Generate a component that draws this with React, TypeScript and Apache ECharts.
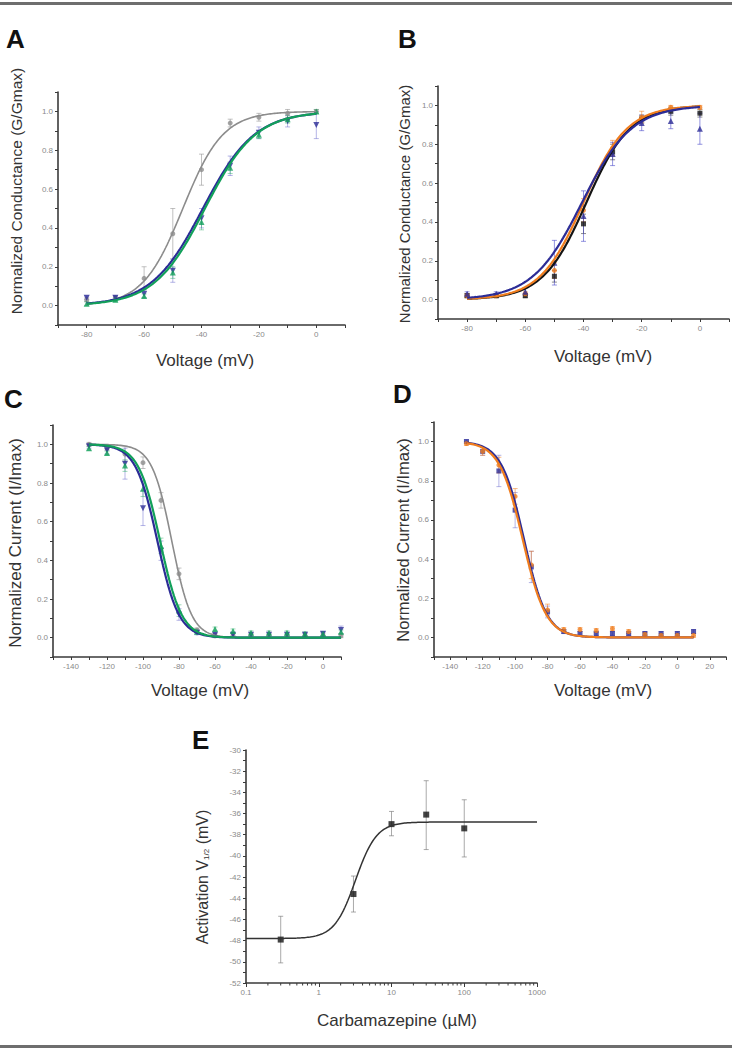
import React, { useEffect, useRef } from "react";
import * as echarts from "echarts";

const FONT = "'Liberation Sans', Arial, Helvetica, sans-serif";

// ---------- Panel A (activation, G/Gmax) ----------
const actVolts = [-80, -70, -60, -50, -40, -30, -20, -10, 0];
const aGray = [0.03, 0.04, 0.14, 0.37, 0.7, 0.94, 0.97, 0.99, 1.0];
const aGrayErr = [0.01, 0.01, 0.06, 0.13, 0.08, 0.02, 0.02, 0.02, 0.01];
const aBlue = [0.04, 0.04, 0.06, 0.18, 0.45, 0.72, 0.89, 0.95, 0.93];
const aBlueErr = [0.01, 0.01, 0.02, 0.06, 0.05, 0.05, 0.03, 0.03, 0.07];
const aGreen = [0.01, 0.03, 0.05, 0.17, 0.43, 0.71, 0.88, 0.96, 1.0];
const aGreenErr = [0.01, 0.01, 0.01, 0.03, 0.04, 0.03, 0.02, 0.02, 0.01];
// Boltzmann fit parameters [V1/2, k]
const aGrayFit = [-46.5, 7];
const aBlueFit = [-39.5, 9];
const aGreenFit = [-38.8, 8.8];

// ---------- Panel B ----------
const bBlack = [0.02, 0.02, 0.02, 0.12, 0.39, 0.76, 0.93, 0.97, 0.96];
const bBlackErr = [0.01, 0.01, 0.01, 0.03, 0.05, 0.04, 0.02, 0.02, 0.02];
const bOrange = [0.02, 0.02, 0.03, 0.15, 0.46, 0.78, 0.94, 0.99, 0.99];
const bOrangeErr = [0.01, 0.01, 0.01, 0.04, 0.06, 0.04, 0.03, 0.01, 0.01];
const bBlue = [0.03, 0.03, 0.04, 0.19, 0.43, 0.75, 0.91, 0.92, 0.88];
const bBlueErr = [0.01, 0.01, 0.02, 0.115, 0.13, 0.06, 0.04, 0.04, 0.08];
const bBlackFit = [-39, 7.5];
const bOrangeFit = [-40, 7.5];
const bBlueFit = [-40.5, 8.5];

// ---------- Panel C (inactivation, I/Imax) ----------
const inactVolts = [-130, -120, -110, -100, -90, -80, -70, -60, -50, -40, -30, -20, -10, 0, 10];
const cGray = [1.0, 0.98, 0.95, 0.905, 0.71, 0.33, 0.04, 0.01, 0.01, 0.01, 0.01, 0.01, 0.01, 0.01, 0.01];
const cGrayErr = [0.01, 0.01, 0.04, 0.03, 0.04, 0.03, 0.01, 0.01, 0.01, 0.01, 0.01, 0.01, 0.01, 0.01, 0.01];
const cBlue = [0.99, 0.97, 0.9, 0.67, 0.45, 0.12, 0.025, 0.015, 0.015, 0.015, 0.015, 0.015, 0.015, 0.02, 0.04];
const cBlueErr = [0.01, 0.02, 0.08, 0.09, 0.05, 0.03, 0.01, 0.01, 0.01, 0.01, 0.01, 0.01, 0.01, 0.01, 0.02];
const cGreen = [0.98, 0.955, 0.89, 0.77, 0.475, 0.14, 0.03, 0.045, 0.035, 0.025, 0.025, 0.025, 0.02, 0.02, 0.03];
const cGreenErr = [0.01, 0.01, 0.03, 0.04, 0.04, 0.03, 0.01, 0.01, 0.01, 0.01, 0.01, 0.01, 0.01, 0.01, 0.01];
const cGrayFit = [-84, 5.5];
const cBlueFit = [-92, 6];
const cGreenFit = [-90.5, 6];

// ---------- Panel D ----------
const dBlue = [1.0, 0.95, 0.85, 0.65, 0.36, 0.13, 0.03, 0.02, 0.02, 0.02, 0.02, 0.02, 0.02, 0.02, 0.03];
const dBlueErr = [0.01, 0.02, 0.08, 0.09, 0.08, 0.03, 0.01, 0.01, 0.01, 0.01, 0.01, 0.01, 0.01, 0.01, 0.01];
const dOrange = [0.99, 0.95, 0.88, 0.72, 0.37, 0.14, 0.04, 0.04, 0.035, 0.045, 0.03, 0.015, 0.01, 0.01, 0.01];
const dOrangeErr = [0.01, 0.02, 0.04, 0.04, 0.07, 0.03, 0.01, 0.01, 0.01, 0.01, 0.01, 0.01, 0.01, 0.01, 0.01];
const dBlueFit = [-94.5, 7];
const dOrangeFit = [-95.3, 7.2];

// ---------- Panel E (V1/2 vs carbamazepine) ----------
const eConc = [0.3, 3, 10, 30, 100];
const eV = [-47.9, -43.6, -37.0, -36.1, -37.4];
const eLow = [-50.1, -45.3, -38.1, -39.4, -40.1];
const eHigh = [-45.7, -41.9, -35.8, -32.9, -34.7];
// dose-response fit: bottom, top, EC50, Hill
const eFit = [-47.8, -36.8, 3.2, 3];
const eLogMinor = [0.2, 0.3, 0.4, 0.5, 0.6, 0.7, 0.8, 0.9, 2, 3, 4, 5, 6, 7, 8, 9, 20, 30, 40, 50, 60, 70, 80, 90, 200, 300, 400, 500, 600, 700, 800, 900];

// tick label lists
const yNormTicks = [-0.1, 0, 0.1, 0.2, 0.3, 0.4, 0.5, 0.6, 0.7, 0.8, 0.9, 1.0, 1.1];
const yNormLabels = [0, 0.2, 0.4, 0.6, 0.8, 1.0];
const xActTicks = [-90, -80, -70, -60, -50, -40, -30, -20, -10, 0, 10];
const xActLabels = [-80, -60, -40, -20, 0];
const xCTicks = [-150, -140, -130, -120, -110, -100, -90, -80, -70, -60, -50, -40, -30, -20, -10, 0, 10];
const xCLabels = [-140, -120, -100, -80, -60, -40, -20, 0];
const xDTicks = [-150, -140, -130, -120, -110, -100, -90, -80, -70, -60, -50, -40, -30, -20, -10, 0, 10, 20, 30];
const xDLabels = [-140, -120, -100, -80, -60, -40, -20, 0, 20];
const yELabels = [-52, -50, -48, -46, -44, -42, -40, -38, -36, -34, -32, -30];

const GRAY = "#8c8c8c";
const BLUE = "#2c2c96";
const GREEN = "#12a05a";
const ORANGE = "#f07d1e";
const BLACK = "#141414";
const INV_TRI = "path://M0,0 L10,0 L5,9 Z";

const act = (p: number[]) => (v: number) => 1 / (1 + Math.exp((p[0] - v) / p[1]));
const inact = (p: number[]) => (v: number) => 1 / (1 + Math.exp((v - p[0]) / p[1]));

function curve(min: number, max: number, f: (v: number) => number) {
  const out: number[][] = [];
  const n = 160;
  for (let i = 0; i <= n; i++) {
    const v = min + ((max - min) * i) / n;
    out.push([v, f(v)]);
  }
  return out;
}
function logCurve(min: number, max: number, f: (v: number) => number) {
  const out: number[][] = [];
  const n = 200;
  const a = Math.log10(min), b = Math.log10(max);
  for (let i = 0; i <= n; i++) {
    const v = Math.pow(10, a + ((b - a) * i) / n);
    out.push([v, f(v)]);
  }
  return out;
}

const pts = (xs: number[], ys: number[]) => xs.map((x, i) => [x, ys[i]]);
const errs = (xs: number[], ys: number[], es: number[]) => xs.map((x, i) => [x, ys[i] - es[i], ys[i] + es[i]]);

function errRender(color: string) {
  return (_p: any, api: any) => {
    const x = api.value(0), lo = api.value(1), hi = api.value(2);
    const a = api.coord([x, hi]);
    const b = api.coord([x, lo]);
    const w = 2.5;
    const st = { stroke: color, lineWidth: 0.9 };
    return {
      type: "group",
      children: [
        { type: "line", shape: { x1: a[0], y1: a[1], x2: b[0], y2: b[1] }, style: st },
        { type: "line", shape: { x1: a[0] - w, y1: a[1], x2: a[0] + w, y2: a[1] }, style: st },
        { type: "line", shape: { x1: b[0] - w, y1: b[1], x2: b[0] + w, y2: b[1] }, style: st },
      ],
    };
  };
}

function errSeries(g: number, data: number[][], color: string) {
  return {
    type: "custom",
    xAxisIndex: g,
    yAxisIndex: g,
    data,
    renderItem: errRender(color),
    z: 2,
    silent: true,
  };
}
function scatterSeries(g: number, data: number[][], color: string, symbol: string, size = 5) {
  return {
    type: "scatter",
    xAxisIndex: g,
    yAxisIndex: g,
    data,
    symbol,
    symbolSize: size,
    itemStyle: { color },
    z: 3,
    silent: true,
  };
}
function lineSeries(g: number, data: number[][], color: string, width = 2, z = 4) {
  return {
    type: "line",
    xAxisIndex: g,
    yAxisIndex: g,
    data,
    showSymbol: false,
    symbol: "none",
    lineStyle: { color, width },
    z,
    silent: true,
  };
}

const axisLineStyle = { color: "#3a3a3a", width: 1.6 };
const tickLabel = { color: "#8a8a8a", fontSize: 8, fontFamily: FONT, margin: 5 };

function valueAxis(g: number, min: number, max: number, ticks: number[], labels: number[], fmt: (v: number) => string) {
  return {
    type: "value",
    gridIndex: g,
    min,
    max,
    axisLine: { show: true, onZero: false, lineStyle: axisLineStyle },
    axisTick: { show: true, inside: false, length: 3, customValues: ticks, lineStyle: { color: "#3a3a3a", width: 1 } },
    axisLabel: { ...tickLabel, customValues: labels, formatter: (v: number) => fmt(v) },
    splitLine: { show: false },
  };
}

function App() {
  const ref = useRef<HTMLDivElement>(null);
  useEffect(() => {
    if (!ref.current) return;
    const chart = echarts.init(ref.current, undefined, { renderer: "svg" });
    const fx = (v: number) => String(Math.round(v));
    const fy = (v: number) => v.toFixed(1);

    const grids = [
      { left: 58, top: 92, width: 287, height: 233 },
      { left: 438, top: 86, width: 291, height: 233 },
      { left: 53, top: 425, width: 288, height: 232 },
      { left: 434, top: 422, width: 292, height: 235 },
      { left: 246, top: 750, width: 291, height: 233 },
    ];

    const xAxis: any[] = [
      valueAxis(0, -90, 10, xActTicks, xActLabels, fx),
      valueAxis(1, -90, 10, xActTicks, xActLabels, fx),
      valueAxis(2, -150, 10, xCTicks, xCLabels, fx),
      valueAxis(3, -150, 30, xDTicks, xDLabels, fx),
      {
        type: "log",
        logBase: 10,
        gridIndex: 4,
        min: 0.1,
        max: 1000,
        axisLine: { show: true, onZero: false, lineStyle: axisLineStyle },
        axisTick: { show: true, inside: false, length: 4, lineStyle: { color: "#3a3a3a", width: 1 } },
        axisLabel: { ...tickLabel, formatter: (v: number) => String(v) },
        splitLine: { show: false },
      },
    ];
    const yAxis: any[] = [
      valueAxis(0, -0.1, 1.1, yNormTicks, yNormLabels, fy),
      valueAxis(1, -0.1, 1.1, yNormTicks, yNormLabels, fy),
      valueAxis(2, -0.1, 1.1, yNormTicks, yNormLabels, fy),
      valueAxis(3, -0.1, 1.1, yNormTicks, yNormLabels, fy),
      {
        type: "value",
        gridIndex: 4,
        min: -52,
        max: -30,
        interval: 1,
        axisLine: { show: true, onZero: false, lineStyle: axisLineStyle },
        axisTick: { show: true, inside: false, length: 3, lineStyle: { color: "#3a3a3a", width: 1 } },
        axisLabel: { ...tickLabel, customValues: yELabels, formatter: (v: number) => String(v) },
        splitLine: { show: false },
      },
    ];

    const eFn = (c: number) =>
      eFit[0] + (eFit[1] - eFit[0]) / (1 + Math.pow(10, (Math.log10(eFit[2]) - Math.log10(c)) * eFit[3]));

    const series: any[] = [
      // A
      errSeries(0, errs(actVolts, aGray, aGrayErr), "rgba(140,140,140,0.6)"),
      errSeries(0, errs(actVolts, aBlue, aBlueErr), "rgba(90,90,200,0.5)"),
      errSeries(0, errs(actVolts, aGreen, aGreenErr), "rgba(40,170,100,0.5)"),
      scatterSeries(0, pts(actVolts, aGray), GRAY, "circle", 5),
      scatterSeries(0, pts(actVolts, aBlue), BLUE, INV_TRI, 6),
      scatterSeries(0, pts(actVolts, aGreen), GREEN, "triangle", 6),
      lineSeries(0, curve(-80, 0, act(aGrayFit)), GRAY, 1.6),
      lineSeries(0, curve(-80, 0, act(aBlueFit)), BLUE, 2.2),
      lineSeries(0, curve(-80, 0, act(aGreenFit)), GREEN, 2.2, 5),
      // B
      errSeries(1, errs(actVolts, bBlack, bBlackErr), "rgba(40,40,40,0.6)"),
      errSeries(1, errs(actVolts, bOrange, bOrangeErr), "rgba(240,125,30,0.6)"),
      errSeries(1, errs(actVolts, bBlue, bBlueErr), "rgba(70,70,200,0.65)"),
      scatterSeries(1, pts(actVolts, bBlack), BLACK, "rect", 5),
      scatterSeries(1, pts(actVolts, bOrange), ORANGE, "circle", 5),
      scatterSeries(1, pts(actVolts, bBlue), BLUE, "triangle", 6),
      lineSeries(1, curve(-80, 0, act(bBlackFit)), BLACK, 2.2),
      lineSeries(1, curve(-80, 0, act(bOrangeFit)), ORANGE, 2.2),
      lineSeries(1, curve(-80, 0, act(bBlueFit)), BLUE, 2.2, 5),
      // C
      errSeries(2, errs(inactVolts, cGray, cGrayErr), "rgba(140,140,140,0.6)"),
      errSeries(2, errs(inactVolts, cBlue, cBlueErr), "rgba(90,90,200,0.5)"),
      errSeries(2, errs(inactVolts, cGreen, cGreenErr), "rgba(40,170,100,0.5)"),
      scatterSeries(2, pts(inactVolts, cGray), GRAY, "circle", 5),
      scatterSeries(2, pts(inactVolts, cBlue), BLUE, INV_TRI, 6),
      scatterSeries(2, pts(inactVolts, cGreen), GREEN, "triangle", 6),
      lineSeries(2, curve(-130, 10, inact(cGrayFit)), GRAY, 1.6),
      lineSeries(2, curve(-130, 10, inact(cBlueFit)), BLUE, 2.2),
      lineSeries(2, curve(-130, 10, inact(cGreenFit)), GREEN, 2.2, 5),
      // D
      errSeries(3, errs(inactVolts, dBlue, dBlueErr), "rgba(90,90,200,0.5)"),
      errSeries(3, errs(inactVolts, dOrange, dOrangeErr), "rgba(240,125,30,0.6)"),
      scatterSeries(3, pts(inactVolts, dBlue), BLUE, "rect", 5),
      scatterSeries(3, pts(inactVolts, dOrange), ORANGE, "circle", 5),
      lineSeries(3, curve(-130, 10, inact(dBlueFit)), BLUE, 2.2),
      lineSeries(3, curve(-130, 10, inact(dOrangeFit)), ORANGE, 2.2, 5),
      // E
      errSeries(4, eConc.map((c, i) => [c, eLow[i], eHigh[i]]), "rgba(120,120,120,0.7)"),
      scatterSeries(4, pts(eConc, eV), BLACK, "rect", 6),
      lineSeries(4, logCurve(0.1, 1000, eFn), "#333333", 1.5),
      {
        type: "custom",
        xAxisIndex: 4,
        yAxisIndex: 4,
        data: eLogMinor.map((v) => [v, -52]),
        renderItem: (_p: any, api: any) => {
          const p = api.coord([api.value(0), api.value(1)]);
          return {
            type: "line",
            shape: { x1: p[0], y1: p[1], x2: p[0], y2: p[1] + 2.5 },
            style: { stroke: "#3a3a3a", lineWidth: 1 },
          };
        },
        clip: false,
        silent: true,
      },
    ];

    const letter = (t: string, x: number, y: number) => ({
      type: "text",
      x,
      y,
      style: { text: t, fontSize: 26, fontWeight: "bold", fontFamily: FONT, fill: "#111" },
    });
    const xTitle = (t: string, x: number, y: number, size = 17) => ({
      type: "text",
      x,
      y,
      style: { text: t, fontSize: size, fontFamily: FONT, fill: "#333", align: "center", verticalAlign: "middle" },
    });
    const yTitle = (t: string, x: number, y: number, size = 15) => ({
      type: "text",
      x,
      y,
      rotation: Math.PI / 2,
      style: { text: t, fontSize: size, fontFamily: FONT, fill: "#333", align: "center", verticalAlign: "middle" },
    });

    const graphic: any[] = [
      { type: "rect", shape: { x: 0, y: 2, width: 732, height: 3 }, style: { fill: "#6e6e6e" } },
      { type: "rect", shape: { x: 0, y: 1045, width: 732, height: 3 }, style: { fill: "#6e6e6e" } },
      letter("A", 6, 26),
      letter("B", 398, 26),
      letter("C", 4, 386),
      letter("D", 393, 381),
      letter("E", 192, 727),
      xTitle("Voltage (mV)", 205, 360),
      xTitle("Voltage (mV)", 603, 356),
      xTitle("Voltage (mV)", 200, 690),
      xTitle("Voltage (mV)", 603, 690),
      xTitle("Carbamazepine (\u00b5M)", 397, 1020),
      yTitle("Normalized Conductance (G/Gmax)", 16, 191, 15.5),
      yTitle("Normalized Conductance (G/Gmax)", 404, 204, 15),
      yTitle("Normalized Current (I/Imax)", 15, 543, 17),
      yTitle("Normalized Current (I/Imax)", 403, 540, 16.5),
      {
        type: "text",
        x: 202,
        y: 877,
        rotation: Math.PI / 2,
        style: {
          text: "{a|Activation V}{s|1/2}{a| (mV)}",
          fontFamily: FONT,
          fill: "#333",
          align: "center",
          verticalAlign: "middle",
          rich: {
            a: { fontSize: 16, fontFamily: FONT, fill: "#333" },
            s: { fontSize: 8, fontFamily: FONT, fill: "#333", padding: [8, 0, 0, 0] },
          },
        },
      },
    ];

    chart.setOption({
      animation: false,
      backgroundColor: "#ffffff",
      grid: grids,
      xAxis,
      yAxis,
      series,
      graphic,
    });
    return () => chart.dispose();
  }, []);

  return (
    <div
      ref={ref}
      style={{ position: "absolute", left: 0, top: 0, width: 732, height: 1050 }}
    />
  );
}

export default App;
